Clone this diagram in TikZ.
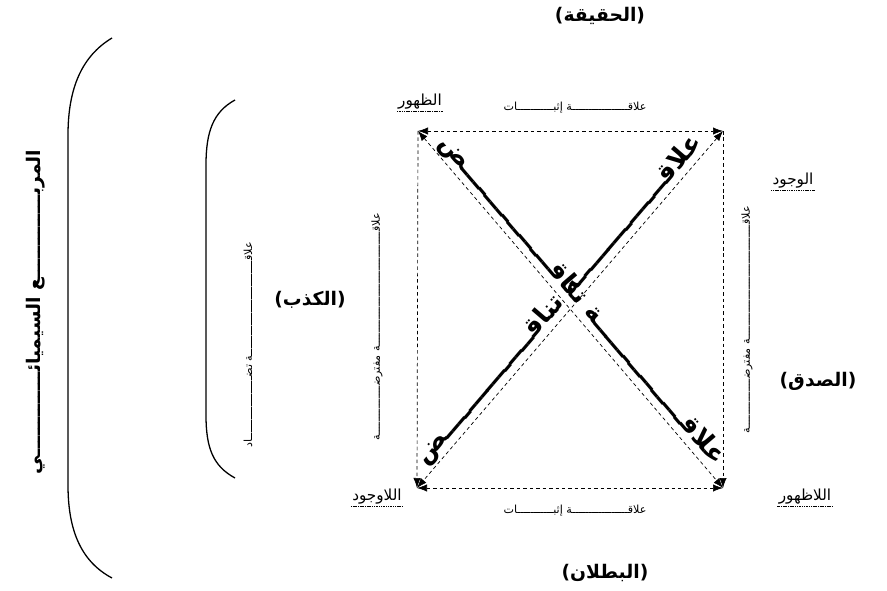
\documentclass[tikz,border=0pt]{standalone}
\usepackage{fontspec}
\newfontfamily\arabicfont[Script=Arabic]{DejaVu Sans}
\newfontfamily\parenfont{DejaVu Sans}
\TeXXeTstate=1
\usetikzlibrary{arrows.meta,positioning,calc}
\newcommand{\paren}[1]{{\parenfont(}\beginR #1\endR{\parenfont)}}
\tikzset{
  pole/.style={font=\arabicfont\bfseries\fontsize{16}{18}\selectfont, inner sep=1pt},
  corner/.style={font=\arabicfont\fontsize{13}{15}\selectfont, inner sep=1pt},
  relation/.style={font=\arabicfont\fontsize{9.5}{11}\selectfont, inner sep=1pt},
  diagtext/.style={font=\arabicfont\bfseries\fontsize{22}{24}\selectfont, inner sep=1pt},
  dashlink/.style={dash pattern=on 3pt off 2.5pt, line width=0.6pt},
  biarrow/.style={dashlink, {Latex[length=3mm,width=2.2mm]}-{Latex[length=3mm,width=2.2mm]}},
  arrow/.style={dashlink, -{Latex[length=3mm,width=2.2mm]}},
  underline/.style={line width=0.5pt, dash pattern=on 1pt off 0.5pt},
  bracket/.style={line width=1.1pt},
}

\begin{document}
\begin{tikzpicture}[x=0.03cm, y=-0.03cm]
  \useasboundingbox (0,0) rectangle (887,591);

  % corners of the square
  \coordinate (tl) at (418,131);
  \coordinate (tr) at (723,131);
  \coordinate (bl) at (417,488);
  \coordinate (br) at (723,488);

  \draw[biarrow] (tl) -- (tr);
  \draw[biarrow] (bl) -- (br);
  \draw[arrow] (tl) -- (bl);
  \draw[arrow] (tr) -- (br);
  \draw[biarrow] (tl) -- (br);
  \draw[biarrow] (tr) -- (bl);

  % poles
  \node[pole] (truth) at (600,16) {\paren{الحقيقة}};
  \node[pole] (nullity) at (605,573) {\paren{البطلان}};
  \node[pole] (lie) at (310,300) {\paren{الكذب}};
  \node[pole] (sincere) at (818,381) {\paren{الصدق}};

  % corner terms
  \node[corner] (appear) at (420,102) {\beginR الظهور\endR};
  \node[corner] (exist) at (793,181) {\beginR الوجود\endR};
  \node[corner] (nonexist) at (377,497) {\beginR اللاوجود\endR};
  \node[corner] (nonappear) at (805,497) {\beginR اللاظهور\endR};
  \foreach \n in {appear,exist,nonexist,nonappear}
    \draw[underline] (\n.south west) -- (\n.south east);

  % relations on the sides
  \node[relation] (assert1) at (575,108) {\beginR علاقـــــــــــــــــة إثبـــــــــــات\endR};
  \node[relation] (assert2) at (575,511) {\beginR علاقـــــــــــــــــة إثبـــــــــــات\endR};
  \node[relation, rotate=90] (presup1) at (377,327)
    {\beginR علاقـــــــــــــــــــــــــــــــــــة مفترضـــــــــــــــة\endR};
  \node[relation, rotate=90] (presup2) at (747,320)
    {\beginR علاقـــــــــــــــــــــــــــــــــــة مفترضـــــــــــــــة\endR};

  % relations on the diagonals
  \node[diagtext, rotate=49.4, anchor=south] (contra1) at ($(tr)!0.5!(bl)$)
    {\beginR علاقـــــــــــــــة تناقـــــــــــــــض\endR};
  \node[diagtext, rotate=-49.4, anchor=south] (contra2) at ($(tl)!0.5!(br)$)
    {\beginR علاقـــــــــــــــة تناقـــــــــــــــض\endR};

  % brackets
  \draw[bracket] (235,100) .. controls (213,112) and (206,132) .. (206,165)
    -- (206,415) .. controls (206,448) and (213,466) .. (235,478);
  \node[relation, rotate=90] (contrary) at (248,345)
    {\beginR علاقـــــــــــــــــــــــــــــة تضـــــــــــــــــــاد\endR};

  \draw[bracket] (112,38) .. controls (82,56) and (68,88) .. (68,135)
    -- (68,485) .. controls (68,532) and (82,562) .. (112,578);
  \node[pole, rotate=90] (square) at (36,312)
    {\beginR المربـــــــــــــع السيميائـــــــــــــي\endR};
\end{tikzpicture}
\end{document}
